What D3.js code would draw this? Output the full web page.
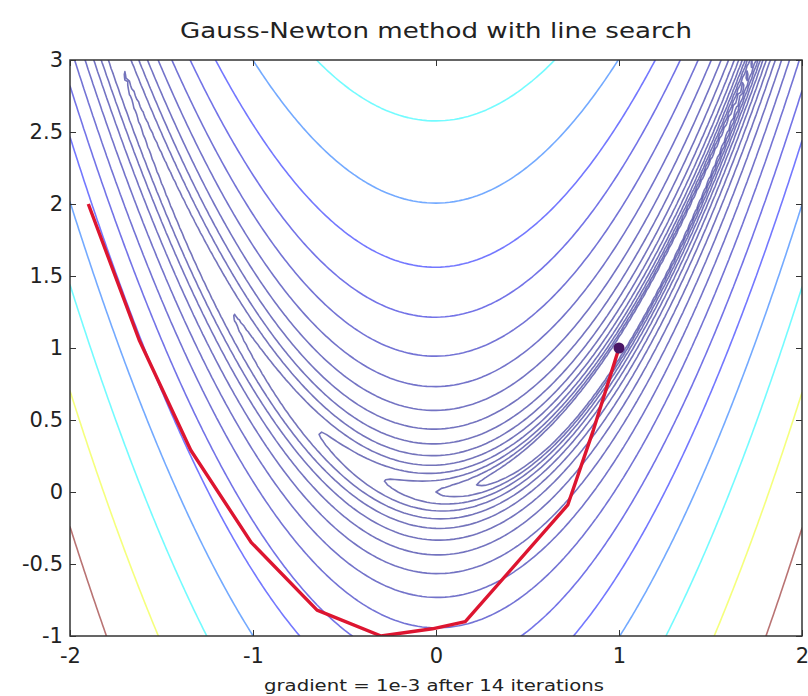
<!DOCTYPE html>
<html><head><meta charset="utf-8">
<script src="https://cdn.jsdelivr.net/npm/d3@7"></script>
<style>html,body{margin:0;padding:0;background:#fff} svg{display:block}</style>
</head><body>
<svg id="chart" width="808" height="696"></svg>
<script>
// ---------------- data ----------------
const titleText = "Gauss-Newton method with line search";
const xLabelText = "gradient = 1e-3 after 14 iterations";
const xDomain = [-2, 2];
const yDomain = [-1, 3];
const gridStep = 0.025;
const xTicks = [-2, -1, 0, 1, 2];
const xTickLabels = ["-2", "-1", "0", "1", "2"];
const yTicks = [-1, -0.5, 0, 0.5, 1, 1.5, 2, 2.5, 3];
const yTickLabels = ["-1", "-0.5", "0", "0.5", "1", "1.5", "2", "2.5", "3"];
// contour levels (exp(k/2) spacing)
const contourLevels = [0.607, 1.0, 1.649, 2.718, 4.482, 7.389, 12.18,
  20.09, 33.12, 54.60, 90.02, 148.4, 244.7, 403.4, 665.1, 1096.6, 1808.0];
// iterate path of the Gauss-Newton method
const pathX = [-1.90, -1.62, -1.34, -1.01, -0.65, -0.30, -0.02, 0.16, 0.72, 0.86, 1.00];
const pathY = [2.00, 1.05, 0.29, -0.35, -0.82, -1.00, -0.95, -0.90, -0.09, 0.43, 1.00];

// Rosenbrock "banana" surface that is contoured
function banana(a, b) { return 100 * (b - a * a) * (b - a * a) + (1 - a) * (1 - a); }

// ---------------- drawing ----------------
const FONT = "DejaVu Sans, Liberation Sans, Arial, sans-serif";
const svg = d3.select("#chart");
const sx = d3.scaleLinear().domain(xDomain).range([70, 802]);
const sy = d3.scaleLinear().domain(yDomain).range([636, 60]);

svg.append("rect").attr("width", 808).attr("height", 696).attr("fill", "#fff");

svg.append("defs").append("clipPath").attr("id", "plotclip")
  .append("rect").attr("x", sx(xDomain[0])).attr("y", sy(yDomain[1]))
  .attr("width", sx(xDomain[1]) - sx(xDomain[0])).attr("height", sy(yDomain[0]) - sy(yDomain[1]));

const nx = Math.round((xDomain[1] - xDomain[0]) / gridStep) + 1;
const ny = Math.round((yDomain[1] - yDomain[0]) / gridStep) + 1;
const values = new Array(nx * ny);
for (let j = 0; j < ny; j++) {
  for (let i = 0; i < nx; i++) {
    values[j * nx + i] = banana(xDomain[0] + i * gridStep, yDomain[0] + j * gridStep);
  }
}
const contourSet = d3.contours().size([nx, ny]).thresholds(contourLevels)(values);

const proj = d3.geoTransform({
  point: function (gx, gy) {
    this.stream.point(sx(xDomain[0] + (gx - 0.5) * gridStep), sy(yDomain[0] + (gy - 0.5) * gridStep));
  }
});
const geoPath = d3.geoPath(proj);

function jet(t) {
  const c = v => Math.max(0, Math.min(1, v));
  const r = c(1.5 - Math.abs(4 * t - 3));
  const g = c(1.5 - Math.abs(4 * t - 2));
  const b = c(1.5 - Math.abs(4 * t - 1));
  return d3.rgb(r * 255, g * 255, b * 255).toString();
}
const lmin = d3.min(contourLevels), lmax = d3.max(contourLevels);
const colorOf = v => jet((v - lmin) / (lmax - lmin));

const plot = svg.append("g").attr("clip-path", "url(#plotclip)");
plot.append("g").selectAll("path").data(contourSet).join("path")
  .attr("d", geoPath)
  .attr("fill", "none")
  .attr("stroke", d => colorOf(d.value))
  .attr("stroke-width", 1.6)
  .attr("stroke-opacity", 0.55)
  .attr("stroke-linejoin", "round");

const pts = pathX.map((v, i) => [v, pathY[i]]);
plot.append("path")
  .attr("d", d3.line().x(d => sx(d[0])).y(d => sy(d[1]))(pts))
  .attr("fill", "none").attr("stroke", "#dd1530").attr("stroke-width", 3.4)
  .attr("stroke-linejoin", "round");
const lastPt = pts[pts.length - 1];
plot.append("circle").attr("cx", sx(lastPt[0])).attr("cy", sy(lastPt[1])).attr("r", 5.5)
  .attr("fill", "#4a1565");

// axes (box with inward ticks)
const axG = svg.append("g");
axG.append("g").attr("transform", `translate(0,${sy(yDomain[0])})`)
  .call(d3.axisBottom(sx).tickValues(xTicks).tickFormat((d, i) => xTickLabels[i]).tickSize(-6).tickPadding(12));
axG.append("g").attr("transform", `translate(0,${sy(yDomain[1])})`)
  .call(d3.axisTop(sx).tickValues(xTicks).tickFormat("").tickSize(-6));
axG.append("g").attr("transform", `translate(${sx(xDomain[0])},0)`)
  .call(d3.axisLeft(sy).tickValues(yTicks).tickFormat((d, i) => yTickLabels[i]).tickSize(-6).tickPadding(7));
axG.append("g").attr("transform", `translate(${sx(xDomain[1])},0)`)
  .call(d3.axisRight(sy).tickValues(yTicks).tickFormat("").tickSize(-6));
axG.selectAll(".domain").remove();
axG.selectAll(".tick line").attr("stroke", "#333");
axG.selectAll(".tick text").attr("font-size", 21).attr("fill", "#222")
  .attr("font-family", FONT);

svg.append("rect").attr("x", sx(xDomain[0])).attr("y", sy(yDomain[1]))
  .attr("width", sx(xDomain[1]) - sx(xDomain[0])).attr("height", sy(yDomain[0]) - sy(yDomain[1]))
  .attr("fill", "none").attr("stroke", "#333").attr("stroke-width", 1.5);

svg.append("text").attr("x", (sx(xDomain[0]) + sx(xDomain[1])) / 2).attr("y", 38)
  .attr("text-anchor", "middle").attr("font-family", FONT)
  .attr("font-size", 21).attr("fill", "#222")
  .attr("textLength", 512).attr("lengthAdjust", "spacingAndGlyphs")
  .text(titleText);

svg.append("text").attr("x", 434).attr("y", 691)
  .attr("text-anchor", "middle").attr("font-family", FONT)
  .attr("font-size", 15).attr("fill", "#222")
  .attr("textLength", 340).attr("lengthAdjust", "spacingAndGlyphs")
  .text(xLabelText);
</script>
</body></html>
